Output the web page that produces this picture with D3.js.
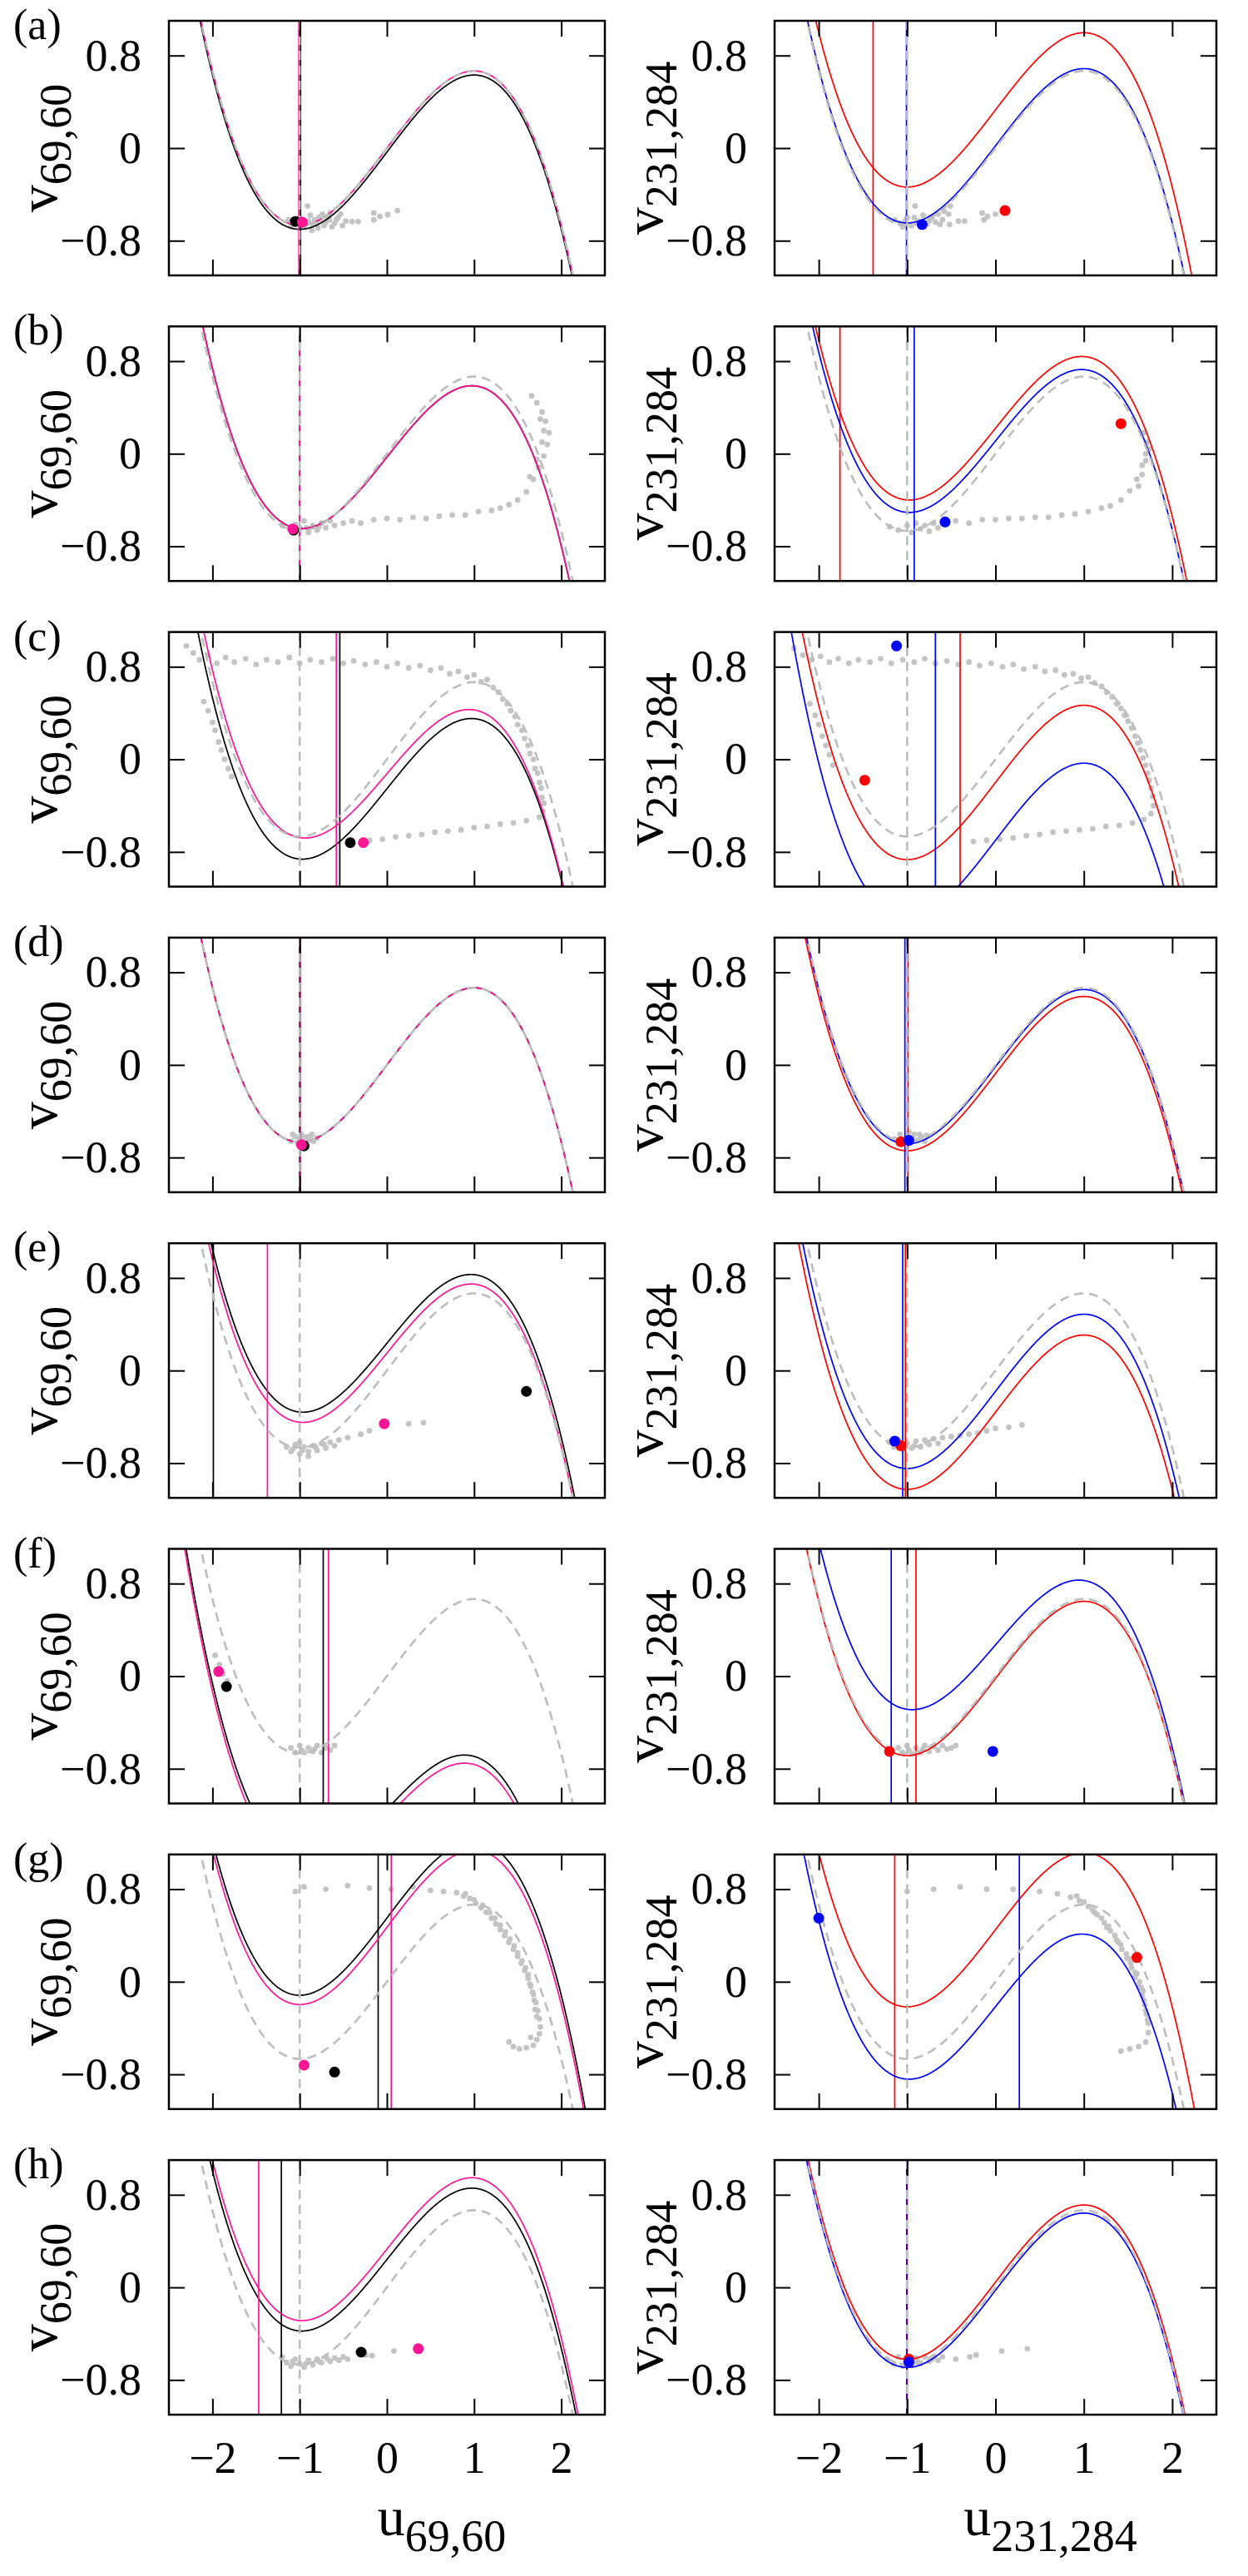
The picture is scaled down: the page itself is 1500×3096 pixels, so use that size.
<!DOCTYPE html>
<html><head><meta charset="utf-8">
<script src="https://cdn.jsdelivr.net/npm/d3@7"></script>
<style>body{margin:0;background:#fff}svg{display:block}text{font-family:"Liberation Serif","Times New Roman",serif;fill:#000}</style>
</head><body>
<svg id="fig" width="1500" height="3096"></svg>
<script>
// ---------------- data ----------------
const panelLabels = ["(a)","(b)","(c)","(d)","(e)","(f)","(g)","(h)"];
const xTicks = [-2,-1,0,1,2];
const yTicks = [-0.8,0,0.8];
const uDomain = [-2.5,2.5];
const vDomain = [-1.1,1.1];
const refOffset = 0;      // grey dashed cubic nullcline offset
const refSlope = 1;
const refVertical = -1;   // grey dashed vertical nullcline
const leftSub = "69,60";
const rightSub = "231,284";

// left column: black and pink nullclines (v = s*u - u^3/3 + c), vertical nullclines, states
const leftBlackSlope  = [1,0.95,0.94,1,0.927,0.79,1,0.95];
const leftBlackOffset = [-0.035,-0.03,-0.255,0.0,0.235,-1.15,0.55,0.24];
const leftPinkSlope   = [1,0.95,0.885,1,0.93,0.79,1,0.95];
const leftPinkOffset  = [0.0,-0.03,-0.125,0.0,0.15,-1.22,0.47,0.33];
const leftBlackVert   = [-0.99,-1.0,-0.54,-1.0,-1.99,-0.73,-0.1,-1.21];
const leftPinkVert    = [-1.01,-1.0,-0.58,-0.99,-1.37,-0.67,0.05,-1.47];
const leftBlackDot    = [[-1.05,-0.634],[-1.07,-0.66],[-0.42,-0.72],[-0.95,-0.70],[1.6,-0.18],[-1.84,-0.09],[-0.6,-0.78],[-0.295,-0.56]];
const leftPinkDot     = [[-0.97,-0.64],[-1.08,-0.65],[-0.27,-0.72],[-0.98,-0.69],[-0.03,-0.46],[-1.93,0.04],[-0.95,-0.72],[0.36,-0.53]];

// right column: red and blue
const rightRedSlope   = [1,0.953,1,1,1,1,1,1];
const rightRedOffset  = [0.33,0.22,-0.2,-0.075,-0.36,-0.02,0.45,0.045];
const rightBlueSlope  = [1,0.95,1,1,1,0.89,0.96,1];
const rightBlueOffset = [0.02,0.11,-0.7,-0.015,-0.18,0.27,-0.215,-0.025];
const rightRedVert    = [-1.385,-1.76,-0.4,-0.99,-1.02,-0.9,-1.14,-1.0];
const rightBlueVert   = [-1.007,-0.92,-0.68,-1.025,-1.05,-1.18,0.27,-1.005];
const rightRedDot     = [[0.108,-0.54],[1.42,0.26],[-1.48,-0.18],[-1.07,-0.664],[-1.07,-0.65],[-1.2,-0.65],[1.6,0.21],[-0.98,-0.62]];
const rightBlueDot    = [[-0.83,-0.66],[-0.57,-0.59],[-1.12,0.98],[-0.98,-0.652],[-1.14,-0.61],[-0.03,-0.65],[-2.0,0.55],[-0.98,-0.645]];

// grey states of the other units
const leftScatter = [
 [[-1.13,-0.62],[-1.06,-0.64],[-0.97,-0.65],[-0.91,-0.5],[-0.86,-0.71],[-0.83,-0.62],[-0.79,-0.69],[-0.74,-0.57],[-0.7,-0.64],[-0.65,-0.56],[-0.63,-0.68],[-0.58,-0.62],[-0.53,-0.57],[-0.51,-0.67],[-0.47,-0.63],[-0.4,-0.635],[-0.33,-0.635],[-0.15,-0.56],[-0.15,-0.62],[-0.08,-0.59],[0.01,-0.575],[0.12,-0.54],[-1.0,-0.6],[-0.95,-0.68],[-0.9,-0.63],[-0.85,-0.66],[-0.78,-0.6],[-0.72,-0.67],[-0.68,-0.6],[-0.6,-0.65],[-1.1,-0.67],[-0.88,-0.58],[-1.03,-0.61],[-0.93,-0.66],[-0.81,-0.65],[-0.76,-0.62],[-0.66,-0.62],[-0.56,-0.6]],
 [[-1.2,-0.62],[-1.1,-0.66],[-1.0,-0.64],[-0.95,-0.58],[-0.9,-0.68],[-0.85,-0.62],[-0.8,-0.66],[-0.75,-0.6],[-0.7,-0.64],[-0.65,-0.58],[-0.6,-0.62],[-0.5,-0.6],[-0.4,-0.58],[-0.3,-0.6],[-0.15,-0.57],[0.0,-0.56],[0.15,-0.57],[0.3,-0.55],[0.45,-0.56],[0.6,-0.54],[0.75,-0.53],[0.9,-0.53],[1.05,-0.5],[1.2,-0.49],[1.3,-0.47],[1.4,-0.44],[1.5,-0.4],[1.6,-0.33],[1.68,-0.22],[1.74,-0.12],[1.8,-0.02],[1.84,0.08],[1.86,0.18],[1.82,0.28],[1.78,0.36],[1.72,0.44],[1.66,0.5],[1.76,0.3],[1.8,0.2],[1.78,0.1],[1.72,-0.05],[1.64,-0.2],[-1.05,-0.61],[-0.92,-0.64],[-0.78,-0.63]],
 [[-2.3,0.98],[-2.22,0.92],[-2.15,0.86],[-2.05,0.9],[-1.95,0.83],[-1.85,0.88],[-1.75,0.84],[-1.62,0.87],[-1.5,0.82],[-1.38,0.86],[-1.25,0.84],[-1.12,0.88],[-1.0,0.83],[-0.88,0.86],[-0.75,0.84],[-0.62,0.87],[-0.5,0.83],[-0.38,0.85],[-0.25,0.82],[-0.12,0.84],[0.0,0.8],[0.12,0.83],[0.25,0.79],[0.38,0.81],[0.5,0.77],[0.62,0.79],[0.72,0.74],[0.82,0.76],[0.92,0.71],[1.0,0.73],[1.08,0.67],[1.15,0.69],[1.22,0.62],[1.28,0.58],[1.33,0.52],[1.38,0.48],[1.42,0.42],[1.47,0.37],[1.5,0.3],[1.55,0.25],[1.58,0.18],[1.62,0.12],[1.64,0.05],[1.68,0.0],[1.7,-0.08],[1.73,-0.12],[1.75,-0.2],[1.77,-0.25],[1.78,-0.33],[1.8,-0.38],[1.79,-0.45],[1.75,-0.5],[1.6,-0.53],[1.45,-0.55],[1.3,-0.56],[1.15,-0.58],[1.0,-0.59],[0.85,-0.61],[0.7,-0.62],[0.55,-0.63],[0.4,-0.65],[0.25,-0.66],[0.1,-0.67],[-0.05,-0.69],[-0.2,-0.7],[-2.1,0.5],[-2.05,0.42],[-2.0,0.32],[-1.97,0.25],[-1.93,0.15],[-1.9,0.08],[-1.86,0.0],[-1.82,-0.08],[-1.78,-0.15]],
 [[-1.1,-0.66],[-1.05,-0.62],[-1.0,-0.64],[-0.98,-0.6],[-0.95,-0.67],[-0.92,-0.62],[-0.9,-0.65],[-0.86,-0.6],[-0.84,-0.66],[-0.8,-0.63],[-1.08,-0.6],[-1.02,-0.68],[-0.96,-0.63],[-0.88,-0.62]],
 [[-1.15,-0.66],[-1.1,-0.7],[-1.05,-0.64],[-1.0,-0.72],[-0.95,-0.66],[-0.9,-0.7],[-0.85,-0.65],[-0.8,-0.69],[-0.75,-0.63],[-0.7,-0.67],[-0.65,-0.62],[-0.6,-0.65],[-0.55,-0.6],[-0.45,-0.58],[-0.3,-0.55],[-0.2,-0.52],[0.25,-0.46],[0.42,-0.45],[-1.0,-0.62],[-0.9,-0.74],[-1.08,-0.68],[-0.97,-0.69],[-0.82,-0.66],[-0.72,-0.64]],
 [[-1.1,-0.62],[-1.05,-0.66],[-1.0,-0.6],[-0.95,-0.66],[-0.9,-0.62],[-0.85,-0.65],[-0.8,-0.6],[-0.75,-0.66],[-0.7,-0.62],[-0.65,-0.64],[-0.6,-0.6],[-1.97,0.18],[-1.92,0.1],[-1.88,0.02],[-1.83,-0.04],[-0.98,-0.64],[-0.83,-0.63]],
 [[-1.05,0.78],[-0.95,0.82],[-0.7,0.8],[-0.45,0.83],[-0.2,0.81],[0.05,0.8],[0.3,0.82],[0.5,0.79],[0.65,0.78],[0.8,0.77],[0.88,0.74],[0.95,0.72],[1.02,0.68],[1.08,0.64],[1.14,0.6],[1.2,0.55],[1.25,0.5],[1.3,0.45],[1.35,0.4],[1.4,0.34],[1.45,0.28],[1.5,0.22],[1.54,0.16],[1.58,0.1],[1.62,0.03],[1.65,-0.04],[1.68,-0.11],[1.71,-0.18],[1.73,-0.25],[1.75,-0.32],[1.76,-0.39],[1.75,-0.45],[1.72,-0.5],[0.9,0.76],[1.0,0.71],[1.1,0.66],[1.18,0.6],[1.24,0.55],[1.3,0.49],[1.36,0.43],[1.41,0.37],[1.46,0.31],[1.5,0.25],[1.55,0.18],[1.59,0.12],[1.62,0.06],[1.64,-0.02],[1.67,-0.09],[1.69,-0.16],[1.7,-0.24],[1.72,-0.3],[1.68,-0.55],[1.6,-0.57],[1.52,-0.58],[1.45,-0.56],[1.4,-0.52],[1.65,-0.48]],
 [[-1.2,-0.6],[-1.15,-0.65],[-1.1,-0.68],[-1.05,-0.62],[-1.0,-0.66],[-0.95,-0.69],[-0.9,-0.63],[-0.85,-0.67],[-0.8,-0.62],[-0.75,-0.65],[-0.7,-0.6],[-0.65,-0.64],[-0.6,-0.61],[-0.55,-0.63],[-0.5,-0.6],[-0.45,-0.62],[-0.24,-0.585],[-0.17,-0.59],[0.08,-0.55],[-1.08,-0.64],[-0.93,-0.66],[-0.78,-0.64],[-0.68,-0.62]]
];
const rightScatter = [
 [[-1.14,-0.62],[-1.08,-0.65],[-1.0,-0.6],[-0.95,-0.67],[-0.91,-0.5],[-0.88,-0.63],[-0.82,-0.58],[-0.78,-0.66],[-0.72,-0.6],[-0.68,-0.64],[-0.65,-0.57],[-0.6,-0.62],[-0.58,-0.545],[-0.53,-0.57],[-0.52,-0.66],[-0.51,-0.5],[-0.42,-0.63],[-0.35,-0.63],[-0.15,-0.56],[-0.13,-0.62],[-0.09,-0.59],[0.0,-0.57],[-1.05,-0.68],[-0.85,-0.68],[-1.02,-0.63],[-0.92,-0.6],[-0.75,-0.63],[-0.63,-0.66]],
 [[-1.2,-0.63],[-1.1,-0.66],[-1.0,-0.62],[-0.95,-0.68],[-0.9,-0.6],[-0.85,-0.65],[-0.8,-0.62],[-0.75,-0.67],[-0.7,-0.6],[-0.65,-0.64],[-0.6,-0.6],[-0.45,-0.58],[-0.3,-0.6],[-0.15,-0.57],[0.0,-0.57],[0.15,-0.56],[0.3,-0.56],[0.45,-0.55],[0.6,-0.55],[0.75,-0.53],[0.9,-0.52],[1.05,-0.5],[1.2,-0.47],[1.3,-0.45],[1.42,-0.4],[1.52,-0.32],[1.6,-0.22],[1.66,-0.1],[1.7,0.0],[1.72,0.1],[1.68,0.18],[1.62,-0.28],[1.66,-0.18],[1.7,-0.06],[1.74,0.04]],
 [[-2.28,0.96],[-2.18,0.9],[-2.08,0.86],[-1.98,0.89],[-1.88,0.84],[-1.78,0.87],[-1.66,0.83],[-1.55,0.86],[-1.42,0.84],[-1.3,0.87],[-1.18,0.83],[-1.05,0.86],[-0.92,0.84],[-0.8,0.87],[-0.68,0.83],[-0.55,0.85],[-0.42,0.82],[-0.3,0.84],[-0.18,0.81],[-0.05,0.83],[0.08,0.8],[0.2,0.82],[0.32,0.78],[0.45,0.8],[0.56,0.76],[0.68,0.77],[0.78,0.73],[0.88,0.74],[0.97,0.7],[1.05,0.71],[1.12,0.66],[1.2,0.63],[1.26,0.58],[1.32,0.54],[1.37,0.48],[1.42,0.44],[1.46,0.38],[1.5,0.33],[1.54,0.27],[1.58,0.2],[1.61,0.14],[1.64,0.08],[1.67,0.01],[1.7,-0.05],[1.72,-0.12],[1.74,-0.18],[1.76,-0.25],[1.78,-0.32],[1.79,-0.4],[1.76,-0.47],[1.68,-0.52],[1.55,-0.55],[1.4,-0.57],[1.25,-0.58],[1.1,-0.6],[0.95,-0.61],[0.8,-0.62],[0.65,-0.63],[0.5,-0.65],[0.35,-0.66],[0.2,-0.68],[0.05,-0.69],[-0.1,-0.7],[-0.25,-0.71],[-2.1,0.48],[-2.04,0.38],[-2.0,0.3],[-1.96,0.2],[-1.92,0.12],[-1.88,0.04],[-1.84,-0.05]],
 [[-1.14,-0.64],[-1.08,-0.6],[-1.04,-0.67],[-1.0,-0.62],[-0.96,-0.66],[-0.92,-0.6],[-0.88,-0.65],[-0.84,-0.62],[-0.8,-0.66],[-0.78,-0.61],[-1.1,-0.68],[-0.98,-0.58],[-0.94,-0.63],[-0.86,-0.6]],
 [[-1.2,-0.62],[-1.15,-0.66],[-1.1,-0.6],[-1.05,-0.68],[-1.0,-0.63],[-0.95,-0.67],[-0.9,-0.61],[-0.85,-0.66],[-0.8,-0.6],[-0.75,-0.64],[-0.7,-0.59],[-0.65,-0.63],[-0.6,-0.58],[-0.5,-0.57],[-0.4,-0.56],[-0.3,-0.55],[-0.2,-0.54],[-0.1,-0.52],[0.0,-0.5],[0.15,-0.49],[0.3,-0.47],[-1.08,-0.64],[-0.92,-0.65],[-0.78,-0.62]],
 [[-1.1,-0.62],[-1.05,-0.66],[-1.0,-0.6],[-0.95,-0.67],[-0.9,-0.62],[-0.85,-0.66],[-0.8,-0.6],[-0.75,-0.65],[-0.7,-0.61],[-0.65,-0.64],[-0.6,-0.6],[-0.55,-0.63],[-0.5,-0.62],[-0.45,-0.6],[-0.98,-0.64],[-0.82,-0.63]],
 [[-1.0,0.78],[-0.7,0.8],[-0.4,0.82],[-0.1,0.8],[0.2,0.8],[0.5,0.78],[0.7,0.76],[0.85,0.73],[0.95,0.7],[1.05,0.65],[1.15,0.58],[1.23,0.51],[1.3,0.44],[1.37,0.36],[1.43,0.28],[1.49,0.2],[1.54,0.12],[1.58,0.04],[1.62,-0.04],[1.66,-0.12],[1.69,-0.2],[1.71,-0.28],[1.73,-0.36],[1.73,-0.44],[1.7,-0.52],[1.62,-0.56],[1.52,-0.58],[1.42,-0.6],[1.2,0.55],[1.28,0.48],[1.35,0.4],[1.42,0.32],[1.48,0.24],[1.53,0.16],[1.58,0.08],[1.63,0.0],[1.67,-0.08],[1.1,0.62],[0.92,0.74],[1.0,0.69],[1.12,0.6],[1.26,0.47],[1.39,0.34],[1.51,0.2],[1.6,0.07],[1.65,-0.05],[1.68,-0.16],[1.7,-0.25],[1.72,-0.33]],
 [[-1.23,-0.62],[-1.15,-0.66],[-1.1,-0.6],[-1.05,-0.68],[-1.0,-0.63],[-0.95,-0.67],[-0.9,-0.61],[-0.85,-0.66],[-0.8,-0.6],[-0.75,-0.64],[-0.7,-0.6],[-0.65,-0.63],[-0.6,-0.6],[-0.45,-0.62],[-0.29,-0.6],[-0.22,-0.585],[0.07,-0.55],[0.36,-0.53],[-1.02,-0.65],[-0.88,-0.64],[-0.72,-0.62]]
];

// ---------------- layout ----------------
const svg = d3.select("#fig");
const colX = [[203,727],[931,1462]];
const top0 = 25, pitch = 367.3, panelH = 306;
const fontTick = 54, fontMain = 66, fontSub = 54;
const grey = "#bdbdbd";

function cubic(s, c){ // samples of the cubic nullcline v = s*u - u^3/3 + c
  const us = d3.range(uDomain[0], uDomain[1]+1e-9, 0.005);
  return us.map(u => [u, s*u - u*u*u/3 + c]);
}

function drawPanel(row, col, spec){
  const [x0,x1] = colX[col];
  const y0 = top0 + row*pitch;
  const x = d3.scaleLinear().domain(uDomain).range([x0,x1]);
  const y = d3.scaleLinear().domain(vDomain).range([y0+panelH, y0]);
  const id = `clip${row}_${col}`;
  svg.append("clipPath").attr("id",id).append("rect")
     .attr("x",x0).attr("y",y0).attr("width",x1-x0).attr("height",panelH);
  const g = svg.append("g").attr("clip-path",`url(#${id})`);
  const line = d3.line().x(d=>x(d[0])).y(d=>y(d[1]));

  g.selectAll("circle.s").data(spec.scatter).join("circle").attr("class","s")
    .attr("cx",d=>x(d[0])).attr("cy",d=>y(d[1])).attr("r",3.4).attr("fill","#c4c4c4");

  spec.curves.forEach(cv=>{
    g.append("path").attr("d",line(cubic(cv.slope, cv.offset))).attr("fill","none")
      .attr("stroke",cv.color).attr("stroke-width",1.7);
    g.append("line").attr("x1",x(cv.vert)).attr("x2",x(cv.vert))
      .attr("y1",y0).attr("y2",y0+panelH).attr("stroke",cv.color).attr("stroke-width",1.7);
  });
  g.append("path").attr("d",line(cubic(refSlope, refOffset))).attr("fill","none")
    .attr("stroke",grey).attr("stroke-width",2.6).attr("stroke-dasharray","11,7");
  g.append("line").attr("x1",x(refVertical)).attr("x2",x(refVertical))
    .attr("y1",y0).attr("y2",y0+panelH).attr("stroke",grey).attr("stroke-width",2.6)
    .attr("stroke-dasharray","11,7");
  spec.curves.forEach(cv=>{
    g.append("circle").attr("cx",x(cv.dot[0])).attr("cy",y(cv.dot[1])).attr("r",6.5).attr("fill",cv.color);
  });

  // axes (ticks inward on all sides)
  const fmt = d => d3.format("")(d).replace("-","\u2212");
  const bottom = svg.append("g").attr("transform",`translate(0,${y0+panelH})`)
    .call(d3.axisBottom(x).tickValues(xTicks).tickSize(-19).tickPadding(32)
      .tickFormat(row===7 ? fmt : ""));
  const topA = svg.append("g").attr("transform",`translate(0,${y0})`)
    .call(d3.axisTop(x).tickValues(xTicks).tickSize(-19).tickFormat(""));
  const left = svg.append("g").attr("transform",`translate(${x0},0)`)
    .call(d3.axisLeft(y).tickValues(yTicks).tickSize(-19).tickPadding(33).tickFormat(fmt));
  const right = svg.append("g").attr("transform",`translate(${x1},0)`)
    .call(d3.axisRight(y).tickValues(yTicks).tickSize(-19).tickFormat(""));
  [bottom,topA,left,right].forEach(a=>{
    a.select(".domain").remove();
    a.selectAll(".tick line").attr("stroke","#000").attr("stroke-width",2);
    a.selectAll(".tick text").attr("font-size",fontTick)
      .attr("font-family","Liberation Serif, Times New Roman, serif").attr("fill","#000");
  });
  svg.append("rect").attr("x",x0).attr("y",y0).attr("width",x1-x0).attr("height",panelH)
    .attr("fill","none").attr("stroke","#000").attr("stroke-width",2.5);

  // y label
  const yl = svg.append("text")
    .attr("transform",`translate(${x0-135},${y0+panelH/2}) rotate(-90)`)
    .attr("text-anchor","middle");
  yl.append("tspan").attr("font-size",fontMain).text("v");
  yl.append("tspan").attr("font-size",fontSub).attr("dy",17).text(spec.sub);

  if(col===0){
    svg.append("text").attr("x",16).attr("y",y0+22).attr("font-size",52).text(panelLabels[row]);
  }
  if(row===7){
    const xl = svg.append("text").attr("x",(x0+x1)/2+66).attr("y",3047).attr("text-anchor","middle");
    xl.append("tspan").attr("font-size",fontMain).text("u");
    xl.append("tspan").attr("font-size",fontSub).attr("dy",19).text(spec.sub);
  }
}

for(let r=0;r<8;r++){
  drawPanel(r,0,{sub:leftSub, scatter:leftScatter[r], curves:[
    {color:"#000000", slope:leftBlackSlope[r], offset:leftBlackOffset[r], vert:leftBlackVert[r], dot:leftBlackDot[r]},
    {color:"#ff1493", slope:leftPinkSlope[r], offset:leftPinkOffset[r], vert:leftPinkVert[r], dot:leftPinkDot[r]}]});
  drawPanel(r,1,{sub:rightSub, scatter:rightScatter[r], curves:[
    {color:"#ff0000", slope:rightRedSlope[r], offset:rightRedOffset[r], vert:rightRedVert[r], dot:rightRedDot[r]},
    {color:"#0000ff", slope:rightBlueSlope[r], offset:rightBlueOffset[r], vert:rightBlueVert[r], dot:rightBlueDot[r]}]});
}
</script>
</body></html>
